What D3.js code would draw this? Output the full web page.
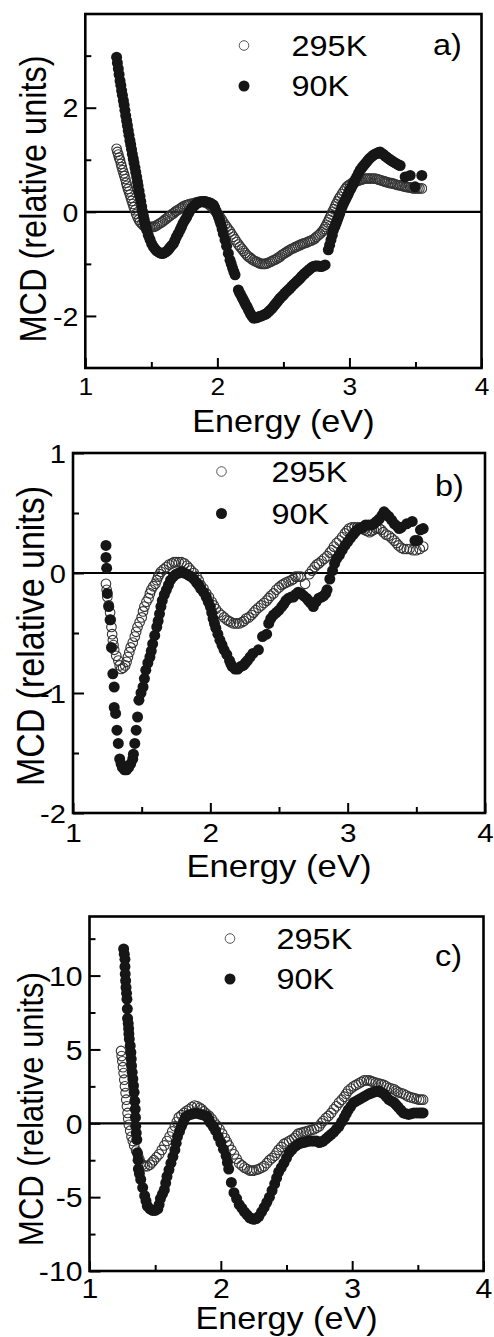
<!DOCTYPE html>
<html><head><meta charset="utf-8">
<script src="https://cdn.jsdelivr.net/npm/d3@7"></script>
<style>
html,body{margin:0;padding:0;background:#fff;}
svg{display:block;font-family:"Liberation Sans",Arial,sans-serif;}
</style></head>
<body>
<svg id="chart" width="494" height="1337"></svg>
<script>
// ---------- DATA ----------
const seriesNames = ["295K", "90K"];
const panelLabels = ["a)", "b)", "c)"];
const xMajorTicks = [1, 2, 3, 4];
const xMinorTicks = [1.5, 2.5, 3.5];

// panel a
const yMajorA = [-2, 0, 2];
const yMinorA = [-3, -1, 1, 3];
const energyA295 = [1.237,1.243,1.25,1.256,1.263,1.27,1.276,1.283,1.29,1.296,1.303,1.31,1.316,1.323,1.33,1.338,1.345,1.352,1.36,1.367,1.376,1.385,1.395,1.405,1.414,1.427,1.44,1.452,1.465,1.477,1.49,1.502,1.515,1.527,1.54,1.553,1.566,1.578,1.59,1.603,1.616,1.628,1.64,1.653,1.667,1.68,1.69,1.703,1.717,1.73,1.74,1.755,1.768,1.78,1.79,1.805,1.818,1.83,1.843,1.856,1.869,1.882,1.894,1.907,1.919,1.932,1.945,1.958,1.97,1.982,1.995,2.008,2.02,2.033,2.045,2.058,2.071,2.084,2.096,2.108,2.121,2.134,2.146,2.16,2.172,2.185,2.197,2.21,2.222,2.235,2.248,2.26,2.273,2.286,2.30,2.31,2.323,2.336,2.35,2.362,2.374,2.387,2.40,2.412,2.424,2.437,2.45,2.462,2.475,2.487,2.50,2.512,2.525,2.537,2.55,2.563,2.576,2.588,2.60,2.613,2.626,2.638,2.65,2.663,2.677,2.69,2.70,2.713,2.727,2.74,2.75,2.765,2.778,2.79,2.80,2.808,2.816,2.826,2.835,2.845,2.854,2.863,2.872,2.882,2.891,2.90,2.91,2.92,2.93,2.943,2.955,2.968,2.98,2.993,3.005,3.018,3.03,3.043,3.055,3.068,3.081,3.093,3.105,3.118,3.131,3.143,3.155,3.168,3.182,3.195,3.21,3.22,3.232,3.245,3.26,3.27,3.283,3.296,3.31,3.32,3.333,3.346,3.36,3.372,3.384,3.397,3.41,3.422,3.434,3.447,3.46,3.472,3.485,3.50,3.515,3.53,3.548];
const mcdA295 = [1.21,1.15,1.10,1.04,0.99,0.92,0.86,0.80,0.74,0.69,0.63,0.56,0.50,0.44,0.39,0.33,0.27,0.21,0.15,0.09,0.03,-0.04,-0.10,-0.15,-0.19,-0.23,-0.26,-0.28,-0.29,-0.29,-0.29,-0.29,-0.29,-0.28,-0.26,-0.24,-0.22,-0.20,-0.18,-0.15,-0.13,-0.10,-0.08,-0.05,-0.03,0.00,0.02,0.04,0.06,0.08,0.10,0.12,0.13,0.14,0.15,0.16,0.16,0.17,0.18,0.19,0.19,0.19,0.19,0.18,0.17,0.15,0.12,0.09,0.06,0.02,-0.02,-0.06,-0.10,-0.15,-0.20,-0.25,-0.29,-0.34,-0.38,-0.43,-0.48,-0.53,-0.58,-0.63,-0.67,-0.71,-0.75,-0.79,-0.83,-0.86,-0.88,-0.91,-0.93,-0.95,-0.96,-0.98,-0.99,-1.00,-1.00,-1.00,-0.99,-0.98,-0.96,-0.95,-0.93,-0.92,-0.90,-0.88,-0.86,-0.83,-0.81,-0.79,-0.77,-0.75,-0.73,-0.71,-0.70,-0.68,-0.67,-0.65,-0.64,-0.62,-0.61,-0.60,-0.59,-0.57,-0.56,-0.55,-0.53,-0.51,-0.48,-0.45,-0.42,-0.39,-0.36,-0.33,-0.29,-0.25,-0.20,-0.15,-0.10,-0.05,0.00,0.05,0.10,0.15,0.20,0.25,0.29,0.34,0.39,0.44,0.48,0.51,0.53,0.55,0.57,0.58,0.59,0.60,0.61,0.62,0.63,0.64,0.64,0.64,0.64,0.64,0.64,0.64,0.63,0.62,0.61,0.60,0.59,0.58,0.57,0.56,0.55,0.55,0.54,0.53,0.52,0.51,0.51,0.50,0.49,0.48,0.48,0.47,0.47,0.46,0.45,0.45,0.45,0.45,0.45];
const energyA90 = [1.237,1.243,1.25,1.256,1.263,1.269,1.275,1.281,1.288,1.294,1.30,1.306,1.313,1.319,1.325,1.331,1.338,1.344,1.35,1.356,1.363,1.369,1.376,1.382,1.389,1.395,1.40,1.407,1.414,1.42,1.427,1.433,1.44,1.446,1.452,1.458,1.465,1.477,1.49,1.502,1.515,1.527,1.54,1.553,1.565,1.578,1.59,1.603,1.615,1.628,1.64,1.653,1.667,1.678,1.69,1.703,1.717,1.728,1.74,1.754,1.768,1.779,1.79,1.804,1.818,1.83,1.843,1.856,1.869,1.882,1.894,1.907,1.919,1.932,1.945,1.958,1.97,1.98,1.99,2.0,2.008,2.018,2.027,2.036,2.045,2.058,2.07,2.083,2.096,2.105,2.115,2.125,2.134,2.159,2.168,2.178,2.188,2.197,2.207,2.216,2.226,2.235,2.245,2.254,2.264,2.273,2.286,2.30,2.31,2.32,2.335,2.35,2.362,2.374,2.387,2.40,2.412,2.424,2.437,2.45,2.462,2.475,2.487,2.50,2.512,2.525,2.537,2.55,2.563,2.576,2.588,2.60,2.613,2.626,2.638,2.65,2.663,2.677,2.69,2.70,2.713,2.727,2.74,2.75,2.765,2.778,2.79,2.80,2.816,2.84,2.85,2.86,2.87,2.879,2.89,2.90,2.908,2.917,2.926,2.935,2.945,2.955,2.965,2.975,2.984,2.992,3.0,3.01,3.02,3.03,3.043,3.055,3.068,3.081,3.093,3.105,3.118,3.131,3.143,3.155,3.168,3.182,3.195,3.21,3.22,3.232,3.246,3.26,3.27,3.283,3.296,3.31,3.32,3.333,3.346,3.36,3.372,3.384,3.422,3.46,3.497,3.548];
const mcdA90 = [2.97,2.86,2.75,2.64,2.52,2.43,2.33,2.24,2.14,2.05,1.95,1.85,1.75,1.66,1.56,1.47,1.37,1.29,1.20,1.11,1.02,0.94,0.85,0.76,0.67,0.58,0.50,0.40,0.30,0.20,0.10,0.01,-0.08,-0.15,-0.22,-0.29,-0.35,-0.45,-0.53,-0.61,-0.67,-0.71,-0.75,-0.77,-0.79,-0.80,-0.80,-0.78,-0.76,-0.73,-0.69,-0.65,-0.61,-0.55,-0.48,-0.42,-0.35,-0.29,-0.22,-0.16,-0.10,-0.04,0.01,0.06,0.10,0.13,0.16,0.18,0.19,0.20,0.20,0.20,0.19,0.18,0.17,0.15,0.13,0.08,0.02,-0.04,-0.10,-0.17,-0.24,-0.33,-0.42,-0.54,-0.66,-0.80,-0.93,-1.00,-1.08,-1.15,-1.21,-1.50,-1.55,-1.60,-1.65,-1.69,-1.74,-1.79,-1.83,-1.88,-1.93,-1.97,-2.01,-2.04,-2.04,-2.03,-2.02,-2.01,-2.00,-1.98,-1.97,-1.95,-1.92,-1.89,-1.86,-1.82,-1.78,-1.74,-1.70,-1.66,-1.63,-1.60,-1.56,-1.53,-1.50,-1.47,-1.43,-1.40,-1.37,-1.34,-1.31,-1.28,-1.24,-1.21,-1.18,-1.15,-1.12,-1.10,-1.07,-1.05,-1.04,-1.04,-1.04,-1.05,-1.05,-1.04,-1.02,-0.73,-0.64,-0.54,-0.45,-0.35,-0.28,-0.22,-0.16,-0.10,-0.04,0.03,0.10,0.16,0.21,0.26,0.31,0.35,0.40,0.44,0.49,0.54,0.61,0.67,0.74,0.80,0.84,0.88,0.92,0.96,1.00,1.03,1.06,1.09,1.11,1.12,1.14,1.15,1.12,1.10,1.07,1.05,1.02,1.00,0.98,0.96,0.94,0.92,0.90,0.89,0.67,0.70,0.48,0.70];

// panel b
const yMajorB = [-2, -1, 0, 1];
const yMinorB = [-1.5, -0.5, 0.5];
const energyB295 = [1.24,1.245,1.25,1.26,1.27,1.275,1.28,1.285,1.29,1.295,1.30,1.315,1.33,1.34,1.35,1.365,1.38,1.39,1.40,1.41,1.42,1.435,1.45,1.46,1.47,1.485,1.50,1.51,1.52,1.535,1.55,1.56,1.57,1.585,1.60,1.61,1.62,1.63,1.64,1.66,1.68,1.70,1.72,1.735,1.75,1.77,1.79,1.81,1.83,1.845,1.86,1.88,1.90,1.915,1.93,1.95,1.97,1.99,2.01,2.025,2.04,2.06,2.08,2.10,2.12,2.135,2.15,2.17,2.19,2.21,2.23,2.245,2.26,2.28,2.30,2.315,2.33,2.35,2.37,2.39,2.41,2.425,2.44,2.46,2.48,2.50,2.52,2.535,2.55,2.57,2.59,2.605,2.62,2.64,2.66,2.69,2.72,2.74,2.76,2.775,2.79,2.81,2.83,2.85,2.87,2.885,2.90,2.92,2.94,2.96,2.98,2.995,3.01,3.03,3.05,3.07,3.09,3.105,3.12,3.14,3.16,3.175,3.19,3.21,3.23,3.245,3.26,3.28,3.30,3.32,3.34,3.355,3.37,3.39,3.41,3.43,3.45,3.475,3.50,3.525,3.55];
const mcdB295 = [-0.09,-0.14,-0.20,-0.27,-0.33,-0.39,-0.45,-0.51,-0.56,-0.60,-0.64,-0.69,-0.73,-0.77,-0.80,-0.79,-0.77,-0.74,-0.70,-0.66,-0.62,-0.58,-0.53,-0.49,-0.45,-0.41,-0.37,-0.32,-0.28,-0.24,-0.21,-0.17,-0.14,-0.11,-0.09,-0.06,-0.03,-0.01,0.01,0.03,0.05,0.07,0.08,0.09,0.09,0.09,0.09,0.08,0.06,0.04,0.02,0.00,-0.03,-0.06,-0.10,-0.13,-0.17,-0.20,-0.24,-0.27,-0.30,-0.33,-0.35,-0.37,-0.39,-0.40,-0.41,-0.42,-0.42,-0.42,-0.41,-0.40,-0.38,-0.37,-0.35,-0.33,-0.31,-0.29,-0.27,-0.25,-0.23,-0.21,-0.19,-0.17,-0.14,-0.12,-0.10,-0.09,-0.08,-0.07,-0.06,-0.05,-0.03,-0.03,-0.03,-0.09,-0.01,0.02,0.05,0.07,0.08,0.10,0.12,0.14,0.17,0.19,0.22,0.25,0.27,0.30,0.33,0.35,0.37,0.38,0.38,0.38,0.38,0.37,0.36,0.35,0.34,0.35,0.36,0.37,0.37,0.36,0.34,0.32,0.31,0.29,0.27,0.25,0.23,0.21,0.20,0.20,0.20,0.19,0.19,0.20,0.22];
const energyB90 = [1.24,1.24,1.245,1.25,1.26,1.27,1.28,1.29,1.30,1.30,1.31,1.32,1.33,1.34,1.35,1.36,1.375,1.39,1.405,1.42,1.435,1.44,1.45,1.46,1.47,1.48,1.495,1.51,1.52,1.53,1.545,1.56,1.57,1.58,1.595,1.61,1.62,1.63,1.64,1.65,1.665,1.68,1.695,1.71,1.73,1.75,1.77,1.79,1.81,1.83,1.845,1.86,1.88,1.90,1.915,1.93,1.95,1.97,1.985,2.00,2.01,2.02,2.03,2.04,2.055,2.07,2.085,2.10,2.12,2.14,2.15,2.16,2.18,2.20,2.22,2.24,2.255,2.27,2.29,2.31,2.35,2.38,2.41,2.425,2.44,2.46,2.48,2.50,2.52,2.535,2.55,2.57,2.59,2.605,2.62,2.64,2.66,2.68,2.70,2.715,2.73,2.75,2.77,2.79,2.81,2.825,2.84,2.85,2.87,2.89,2.905,2.92,2.94,2.96,2.98,3.00,3.02,3.04,3.055,3.07,3.09,3.11,3.13,3.15,3.17,3.19,3.21,3.23,3.25,3.265,3.28,3.30,3.32,3.34,3.36,3.375,3.39,3.43,3.47,3.49,3.51,3.53,3.55];
const mcdB90 = [0.23,0.13,0.04,-0.17,-0.28,-0.39,-0.62,-0.84,-0.95,-1.12,-1.17,-1.31,-1.42,-1.55,-1.59,-1.62,-1.64,-1.64,-1.62,-1.59,-1.55,-1.51,-1.42,-1.31,-1.20,-1.06,-1.00,-0.95,-0.88,-0.81,-0.75,-0.70,-0.65,-0.59,-0.52,-0.45,-0.40,-0.34,-0.28,-0.23,-0.18,-0.14,-0.10,-0.06,-0.03,-0.01,0.00,0.01,0.00,-0.01,-0.02,-0.03,-0.05,-0.08,-0.10,-0.13,-0.16,-0.20,-0.24,-0.28,-0.33,-0.38,-0.42,-0.46,-0.51,-0.56,-0.60,-0.64,-0.68,-0.73,-0.76,-0.78,-0.80,-0.80,-0.78,-0.77,-0.75,-0.73,-0.70,-0.67,-0.64,-0.53,-0.51,-0.42,-0.38,-0.35,-0.33,-0.31,-0.28,-0.26,-0.23,-0.21,-0.20,-0.20,-0.18,-0.16,-0.17,-0.19,-0.21,-0.23,-0.25,-0.28,-0.24,-0.21,-0.20,-0.19,-0.17,-0.14,-0.05,0.02,0.08,0.12,0.15,0.19,0.23,0.26,0.29,0.32,0.34,0.36,0.37,0.38,0.40,0.40,0.40,0.41,0.43,0.45,0.48,0.51,0.49,0.47,0.44,0.41,0.39,0.37,0.38,0.41,0.43,0.27,0.27,0.36,0.37,0.37,0.37];

// panel c
const yMajorC = [-10, -5, 0, 5, 10];
const yMinorC = [-7.5, -2.5, 2.5, 7.5, 12.5];
const energyC295 = [1.24,1.245,1.25,1.255,1.26,1.265,1.27,1.275,1.28,1.285,1.29,1.295,1.30,1.31,1.32,1.33,1.34,1.355,1.37,1.38,1.39,1.405,1.42,1.44,1.46,1.475,1.49,1.51,1.53,1.55,1.57,1.59,1.61,1.63,1.65,1.665,1.68,1.70,1.72,1.74,1.76,1.78,1.80,1.82,1.84,1.855,1.87,1.89,1.91,1.93,1.95,1.97,1.99,2.01,2.03,2.045,2.06,2.08,2.10,2.12,2.14,2.16,2.18,2.20,2.22,2.235,2.25,2.27,2.29,2.31,2.33,2.35,2.37,2.39,2.41,2.425,2.44,2.46,2.48,2.50,2.52,2.54,2.56,2.575,2.59,2.61,2.63,2.65,2.67,2.69,2.71,2.73,2.75,2.765,2.78,2.80,2.82,2.84,2.86,2.88,2.90,2.92,2.94,2.955,2.97,2.99,3.01,3.03,3.05,3.07,3.09,3.11,3.13,3.145,3.16,3.18,3.20,3.22,3.24,3.26,3.28,3.30,3.32,3.335,3.35,3.37,3.39,3.41,3.43,3.45,3.47,3.49,3.51,3.525,3.54];
const mcdC295 = [4.9,4.55,4.2,3.8,3.4,2.95,2.5,2.05,1.6,1.15,0.7,0.3,-0.1,-0.5,-0.9,-1.2,-1.5,-1.85,-2.2,-2.45,-2.7,-2.8,-2.9,-2.9,-2.8,-2.65,-2.5,-2.3,-2.1,-1.8,-1.5,-1.2,-0.9,-0.55,-0.2,0.1,0.4,0.55,0.7,0.85,0.95,1.1,1.2,1.15,1.05,0.95,0.8,0.65,0.5,0.3,0.05,-0.15,-0.4,-0.7,-1.0,-1.25,-1.5,-1.8,-2.1,-2.4,-2.7,-2.85,-3.0,-3.1,-3.2,-3.2,-3.2,-3.15,-3.1,-3.0,-2.9,-2.7,-2.5,-2.35,-2.2,-2.0,-1.8,-1.6,-1.4,-1.3,-1.2,-1.1,-1.0,-0.85,-0.7,-0.65,-0.6,-0.55,-0.5,-0.45,-0.4,-0.3,-0.2,0.0,0.15,0.35,0.5,0.7,0.95,1.15,1.4,1.6,1.8,2.0,2.2,2.35,2.5,2.6,2.7,2.8,2.9,2.9,2.9,2.85,2.8,2.75,2.7,2.65,2.6,2.5,2.4,2.35,2.3,2.2,2.1,2.05,2.0,1.9,1.8,1.75,1.7,1.65,1.6,1.6,1.6];
const energyC90 = [1.26,1.265,1.27,1.27,1.272,1.275,1.278,1.282,1.285,1.288,1.29,1.295,1.298,1.30,1.303,1.31,1.315,1.318,1.32,1.325,1.33,1.335,1.34,1.345,1.348,1.35,1.352,1.356,1.36,1.365,1.37,1.372,1.38,1.39,1.405,1.42,1.43,1.44,1.46,1.48,1.50,1.52,1.53,1.54,1.555,1.57,1.58,1.59,1.605,1.62,1.635,1.65,1.66,1.67,1.685,1.70,1.715,1.73,1.75,1.77,1.79,1.81,1.83,1.85,1.87,1.89,1.905,1.92,1.94,1.96,1.98,2.00,2.02,2.04,2.05,2.06,2.08,2.10,2.12,2.14,2.16,2.18,2.20,2.22,2.235,2.25,2.27,2.29,2.31,2.33,2.35,2.37,2.39,2.41,2.425,2.44,2.46,2.48,2.50,2.52,2.54,2.56,2.575,2.59,2.61,2.63,2.65,2.67,2.69,2.71,2.73,2.75,2.765,2.78,2.80,2.82,2.84,2.86,2.88,2.90,2.92,2.94,2.955,2.97,2.99,3.01,3.03,3.05,3.07,3.09,3.11,3.13,3.145,3.16,3.18,3.20,3.22,3.24,3.26,3.28,3.30,3.32,3.335,3.35,3.37,3.39,3.41,3.43,3.45,3.47,3.49,3.51,3.525,3.54];
const mcdC90 = [11.8,11.45,11.1,10.6,10.1,9.65,9.2,8.8,8.4,7.75,7.1,6.75,6.4,6.05,5.7,5.25,4.8,4.35,3.9,3.45,3.0,2.55,2.1,1.5,0.95,0.4,-0.2,-0.65,-1.1,-2.0,-2.5,-3.1,-3.4,-3.8,-4.35,-4.9,-5.25,-5.6,-5.8,-5.9,-5.9,-5.8,-5.5,-5.1,-4.8,-4.5,-4.05,-3.6,-3.15,-2.7,-2.25,-1.8,-1.35,-0.9,-0.55,-0.2,0.1,0.4,0.55,0.6,0.65,0.7,0.65,0.6,0.55,0.5,0.3,0.05,-0.2,-0.5,-0.9,-1.3,-1.75,-2.2,-2.65,-3.1,-4.0,-4.7,-5.1,-5.5,-5.75,-6.0,-6.2,-6.4,-6.45,-6.5,-6.45,-6.3,-6.0,-5.7,-5.35,-5.0,-4.55,-4.1,-3.7,-3.3,-3.0,-2.7,-2.35,-2.0,-1.8,-1.6,-1.5,-1.4,-1.35,-1.3,-1.25,-1.2,-1.2,-1.2,-1.2,-1.3,-1.25,-1.2,-1.05,-0.9,-0.75,-0.6,-0.4,-0.2,0.1,0.4,0.65,0.9,1.15,1.4,1.5,1.6,1.7,1.8,1.9,2.0,2.05,2.1,2.15,2.2,2.1,2.0,1.8,1.6,1.5,1.4,1.25,1.1,0.9,0.7,0.65,0.6,0.65,0.7,0.7,0.7,0.7,0.7];

const xTitle = "Energy (eV)";
const yTitle = "MCD (relative units)";

// ---------- LAYOUT (positions / sizes only) ----------
const layout = [
  {l:85.3, t:14, r:481.5, b:368, xLabBase:395.5, xFs:23.5, yFs:25.5, xTitleBase:432, xTitleFs:30.5,
   yTitleX:33, yTitleY:199, yTitleFs:32.5, legX:244, legY1:45.5, legY2:86, legTextX:291.5, legFs:29,
   panelX:433, panelY:55},
  {l:73, t:453, r:485, b:813, xLabBase:842, xFs:26.5, yFs:26, xTitleBase:877, xTitleFs:31,
   yTitleX:30, yTitleY:636, yTitleFs:34, legX:221.5, legY1:471.5, legY2:513.5, legTextX:271.5, legFs:29,
   panelX:435, panelY:496},
  {l:89.5, t:916.5, r:483.5, b:1271, xLabBase:1298, xFs:27, yFs:27, xTitleBase:1329, xTitleFs:30.5,
   yTitleX:30, yTitleY:1109, yTitleFs:31, legX:230, legY1:938.5, legY2:979, legTextX:276.5, legFs:29,
   panelX:435, panelY:966}
];

const panels = [
  {yDomain:[-3, 3.8], yMajor:yMajorA, yMinor:yMinorA, s295:[energyA295, mcdA295], s90:[energyA90, mcdA90]},
  {yDomain:[-2, 1],   yMajor:yMajorB, yMinor:yMinorB, s295:[energyB295, mcdB295], s90:[energyB90, mcdB90]},
  {yDomain:[-10, 14], yMajor:yMajorC, yMinor:yMinorC, s295:[energyC295, mcdC295], s90:[energyC90, mcdC90]}
];

const SX = 1.12; // horizontal stretch of the reference glyphs
const svg = d3.select("#chart");

function styleTicks(g, w) {
  g.select(".domain").remove();
  g.selectAll(".tick line").attr("stroke", "#000").attr("stroke-width", w);
}

panels.forEach((p, i) => {
  const L = layout[i];
  const g = svg.append("g");
  const x = d3.scaleLinear().domain([1, 4]).range([L.l, L.r]);
  const y = d3.scaleLinear().domain(p.yDomain).range([L.b, L.t]);

  // zero line
  g.append("line").attr("x1", L.l).attr("x2", L.r).attr("y1", y(0)).attr("y2", y(0))
    .attr("stroke", "#000").attr("stroke-width", 2.2);

  // x axis major
  const gx = g.append("g").attr("transform", `translate(0,${L.b})`)
    .call(d3.axisBottom(x).tickValues(xMajorTicks).tickSize(-10).tickFormat(d => String(d)));
  styleTicks(gx, 2);
  gx.selectAll(".tick text").attr("fill", "#000").attr("font-size", L.xFs)
    .attr("font-family", "Liberation Sans, Arial, sans-serif")
    .attr("y", L.xLabBase - L.b).attr("dy", 0).attr("transform", `scale(${SX},1)`);
  // x minor
  const gxm = g.append("g").attr("transform", `translate(0,${L.b})`)
    .call(d3.axisBottom(x).tickValues(xMinorTicks).tickSize(-6).tickFormat(""));
  styleTicks(gxm, 2);

  // y axis major
  const gy = g.append("g").attr("transform", `translate(${L.l},0)`)
    .call(d3.axisLeft(y).tickValues(p.yMajor).tickSize(-11).tickFormat(d => String(d)));
  styleTicks(gy, 2);
  gy.selectAll(".tick text").attr("fill", "#000").attr("font-size", L.yFs)
    .attr("font-family", "Liberation Sans, Arial, sans-serif")
    .attr("x", -7 / SX).attr("dy", "0.36em").attr("transform", `scale(${SX},1)`);
  const gym = g.append("g").attr("transform", `translate(${L.l},0)`)
    .call(d3.axisLeft(y).tickValues(p.yMinor.filter(v => v > p.yDomain[0] && v < p.yDomain[1])).tickSize(-6).tickFormat(""));
  styleTicks(gym, 2);

  // frame
  g.append("rect").attr("x", L.l).attr("y", L.t).attr("width", L.r - L.l).attr("height", L.b - L.t)
    .attr("fill", "none").attr("stroke", "#000").attr("stroke-width", 2.6);

  // data
  const d295 = p.s295[0].map((e, k) => [e, p.s295[1][k]]);
  const d90 = p.s90[0].map((e, k) => [e, p.s90[1][k]]);
  g.append("g").selectAll("circle").data(d295).join("circle")
    .attr("cx", d => x(d[0])).attr("cy", d => y(d[1])).attr("r", 4.8)
    .attr("fill", "none").attr("stroke", "#333").attr("stroke-width", 1.1);
  g.append("g").selectAll("circle").data(d90).join("circle")
    .attr("cx", d => x(d[0])).attr("cy", d => y(d[1])).attr("r", 5.5)
    .attr("fill", "#161616");

  // legend
  g.append("circle").attr("cx", L.legX).attr("cy", L.legY1).attr("r", 4.8)
    .attr("fill", "#fff").attr("stroke", "#555").attr("stroke-width", 1);
  g.append("circle").attr("cx", L.legX).attr("cy", L.legY2).attr("r", 5.5).attr("fill", "#161616");
  [[seriesNames[0], L.legY1], [seriesNames[1], L.legY2]].forEach(([txt, cy]) => {
    g.append("text").attr("transform", `translate(${L.legTextX},${cy + 0.36 * L.legFs}) scale(${SX},1)`)
      .attr("font-size", L.legFs).attr("fill", "#000").text(txt);
  });
  g.append("text").attr("transform", `translate(${L.panelX},${L.panelY}) scale(${SX},1)`)
    .attr("font-size", L.legFs).attr("fill", "#000").text(panelLabels[i]);

  // axis titles
  g.append("text").attr("transform", `translate(${(L.l + L.r) / 2},${L.xTitleBase}) scale(${SX},1)`)
    .attr("text-anchor", "middle").attr("font-size", L.xTitleFs).attr("fill", "#000").text(xTitle);
  g.append("text").attr("transform", `translate(${L.yTitleX},${L.yTitleY}) rotate(-90) scale(1,${SX})`)
    .attr("text-anchor", "middle").attr("dy", "0.36em").attr("font-size", L.yTitleFs)
    .attr("fill", "#000").text(yTitle);
});
</script>
</body></html>
